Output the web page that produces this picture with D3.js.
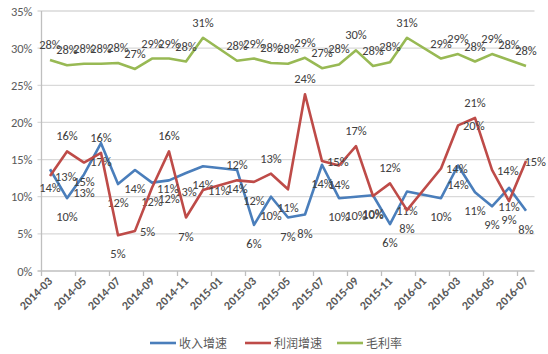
<!DOCTYPE html>
<html>
<head>
<meta charset="utf-8">
<script src="https://cdn.jsdelivr.net/npm/d3@7"></script>
<style>
	body { margin: 0; background: #fff; }
	svg { display: block; font-family: Carlito, Calibri, Lato, 'Noto Sans CJK SC', sans-serif; }
</style>
</head>
<body>
<div id="chart"></div>
<script>

// Months on the x axis (January values are missing in the source data)
var months = ['2014-03', '2014-04', '2014-05', '2014-06', '2014-07', '2014-08', '2014-09', '2014-10', '2014-11', '2014-12',
	'2015-01', '2015-02', '2015-03', '2015-04', '2015-05', '2015-06', '2015-07', '2015-08', '2015-09', '2015-10', '2015-11', '2015-12',
	'2016-01', '2016-02', '2016-03', '2016-04', '2016-05', '2016-06', '2016-07'];

// Labels shown under the axis (every other month)
var monthTicks = ['2014-03', '2014-05', '2014-07', '2014-09', '2014-11', '2015-01', '2015-03', '2015-05', '2015-07',
	'2015-09', '2015-11', '2016-01', '2016-03', '2016-05', '2016-07'];

var yTicks = [0, 5, 10, 15, 20, 25, 30, 35];

var seriesNames = ['收入增速', '利润增速', '毛利率'];

// Values in %
var revenueGrowth = [13.7, 9.8, 13.0, 17.2, 11.7, 13.6, 11.9, 12.2, 13.2, 14.1,
	null, 13.6, 6.2, 10.0, 7.2, 7.6, 14.3, 9.8, 10.0, 10.2, 6.3, 10.7,
	null, 9.8, 14.2, 10.6, 8.7, 11.2, 8.1];

var profitGrowth = [12.8, 16.1, 14.6, 15.9, 4.8, 5.4, 11.2, 16.1, 7.2, 10.9,
	null, 12.2, 12.0, 13.1, 11.0, 23.8, 14.8, 14.2, 16.8, 10.1, 11.8, 8.2,
	null, 13.8, 19.6, 20.6, 13.6, 9.4, 14.8];

var grossMargin = [28.4, 27.7, 27.9, 27.9, 28.0, 27.2, 28.6, 28.6, 28.2, 31.4,
	null, 28.3, 28.6, 28.0, 27.9, 28.7, 27.3, 27.8, 29.7, 27.6, 28.1, 31.4,
	null, 28.6, 29.2, 28.2, 29.2, 28.4, 27.6];

var colors = ['#4a7ebb', '#be4b48', '#98b954'];

var width = 548, height = 354;
var plotLeft = 41.5, plotRight = 534.5, plotTop = 11, plotBottom = 271;

var svg = d3.select('#chart').append('svg')
		.attr('width', width)
		.attr('height', height);

var x = d3.scaleBand().domain(months).range([plotLeft, plotRight]).padding(0);
var y = d3.scaleLinear().domain([0, 35]).range([plotBottom, plotTop]);

var cx = function(m) { return x(m) + x.bandwidth() / 2; };

// Grid lines
svg.append('g').selectAll('line').data(yTicks).enter().append('line')
		.attr('x1', plotLeft - 4)
		.attr('x2', plotRight)
		.attr('y1', function(d) { return y(d); })
		.attr('y2', function(d) { return y(d); })
		.style('stroke', function(d) { return d == 0 ? '#bfbfbf' : '#d9d9d9'; })
		.style('stroke-width', 1.3);

// Y axis line
svg.append('line')
		.attr('x1', plotLeft).attr('x2', plotLeft)
		.attr('y1', plotTop).attr('y2', plotBottom)
		.style('stroke', '#bfbfbf')
		.style('stroke-width', 1.3);

// Y tick labels
svg.append('g').selectAll('text').data(yTicks).enter().append('text')
		.attr('x', plotLeft - 9)
		.attr('y', function(d) { return y(d) + 4.5; })
		.attr('text-anchor', 'end')
		.style('font-size', '12.5px')
		.style('fill', '#595959')
		.text(function(d) { return d + '%'; });

// X tick marks, every two months on the band edges
svg.append('g').selectAll('line').data(monthTicks).enter().append('line')
		.attr('x1', function(d) { return x(d); })
		.attr('x2', function(d) { return x(d); })
		.attr('y1', plotBottom)
		.attr('y2', plotBottom + 5)
		.style('stroke', '#bfbfbf')
		.style('stroke-width', 1.3);

// X tick labels (rotated)
svg.append('g').selectAll('text').data(monthTicks).enter().append('text')
		.attr('text-anchor', 'end')
		.attr('transform', function(d) { return 'translate(' + (cx(d) + 3) + ',' + (plotBottom + 11) + ') rotate(-45)'; })
		.style('font-size', '12px')
		.style('font-weight', 'bold')
		.style('fill', '#595959')
		.text(function(d) { return d; });

var allSeries = [revenueGrowth, profitGrowth, grossMargin];

var line = d3.line()
		.x(function(d) { return cx(d.month); })
		.y(function(d) { return y(d.value); });

// where to put the value label of each series
var labelMode = ['below', 'shape', 'above'];

allSeries.forEach(function(values, s) {

	var points = [];
	for (var i = 0; i < values.length; i++) {
		if (values[i] != null) points.push({month: months[i], value: values[i]});
	}

	svg.append('path').datum(points)
			.style('fill', 'none')
			.style('stroke', colors[s])
			.style('stroke-width', 2.6)
			.style('stroke-linejoin', 'round')
			.attr('d', line);

	svg.append('g').selectAll('text').data(points).enter().append('text')
			.style('font-size', '12.5px')
			.style('fill', '#404040')
			.text(function(d) { return Math.round(d.value) + '%'; })
			.each(function(d, i) {
				var mode = labelMode[s];
				if (mode == 'shape') {
					// peaks get the label above, dips below, the rest on the right
					var prev = points[i - 1], next = points[i + 1];
					if (!prev || !next) mode = 'right';
					else if (d.value >= prev.value && d.value >= next.value) mode = 'above';
					else if (d.value <= prev.value && d.value <= next.value) mode = 'below';
					else mode = 'right';
				}
				var px = cx(d.month), py = y(d.value);
				var t = d3.select(this);
				var w = this.getComputedTextLength();
				var tx, ty;
				if (mode == 'above') { tx = px - w / 2; ty = py - 11; }
				else if (mode == 'below') { tx = px - w / 2; ty = py + 23; }
				else { tx = px + 5; ty = py + 5; }
				// keep inside the picture
				if (tx + w > width - 2) tx = width - 2 - w;
				t.attr('x', tx).attr('y', ty);
			});
});

// Legend
var legend = svg.append('g').attr('transform', 'translate(150,343)');
var legendX = [0, 95, 187];

seriesNames.forEach(function(name, s) {
	var g = legend.append('g').attr('transform', 'translate(' + legendX[s] + ',0)');
	g.append('line')
			.attr('x1', 0).attr('x2', 26)
			.attr('y1', 0).attr('y2', 0)
			.style('stroke', colors[s])
			.style('stroke-width', 2.6);
	g.append('text')
			.attr('x', 29)
			.attr('y', 4.5)
			.style('font-family', "'Noto Sans CJK SC', sans-serif")
			.style('font-size', '12px')
			.style('fill', '#595959')
			.text(name);
});

</script>
</body>
</html>
